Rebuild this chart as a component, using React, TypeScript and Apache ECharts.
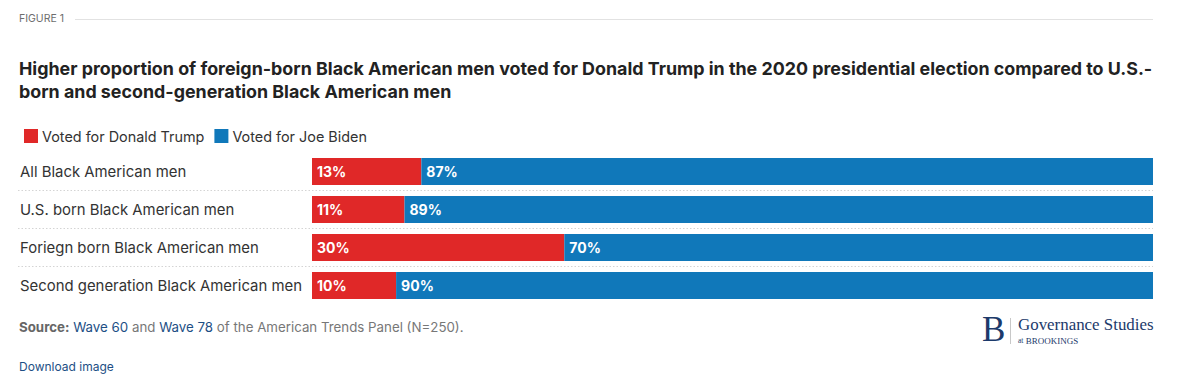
import React, { useEffect, useRef } from "react";
import * as echarts from "echarts";

const categories = [
  "All Black American men",
  "U.S. born Black American men",
  "Foriegn born Black American men",
  "Second generation Black American men",
];
const trump = [13, 11, 30, 10];
const biden = [87, 89, 70, 90];
const seriesNames = ["Voted for Donald Trump", "Voted for Joe Biden"];

const RED = "#E02828";
const BLUE = "#1078BA";
const FONT = "Inter, 'Noto Sans', sans-serif";
const SERIF = "'Liberation Serif', 'DejaVu Serif', serif";

export default function App() {
  const ref = useRef<HTMLDivElement>(null);
  useEffect(() => {
    document.body.style.margin = "0";
    const chart = echarts.init(ref.current!, null, { renderer: "svg" });
    const label = {
      show: true,
      position: "insideLeft",
      distance: 5,
      color: "#fff",
      fontWeight: "bold",
      fontSize: 14,
      fontFamily: FONT,
      formatter: (p: any) => p.value + "%",
    };
    chart.setOption({
      animation: false,
      textStyle: { fontFamily: FONT },
      grid: { left: 312, right: 28, top: 152.5, height: 152, containLabel: false },
      legend: {
        left: 19,
        top: 124,
        icon: "rect",
        itemWidth: 14,
        itemHeight: 14,
        itemGap: 10,
        textStyle: { fontSize: 14.4, color: "#333", fontFamily: FONT, padding: [0, 0, 0, -1] },
        data: seriesNames,
      },
      xAxis: { type: "value", min: 0, max: 100, show: false },
      yAxis: {
        type: "category",
        data: categories,
        inverse: true,
        axisLine: { show: false },
        axisTick: { show: false },
        splitLine: { show: false },
        axisLabel: {
          align: "left",
          margin: 292,
          fontSize: 14.9,
          color: "#333",
          fontFamily: FONT,
        },
      },
      series: [
        { name: seriesNames[0], type: "bar", stack: "v", data: trump, barWidth: 27, itemStyle: { color: RED }, label },
        { name: seriesNames[1], type: "bar", stack: "v", data: biden, barWidth: 27, itemStyle: { color: BLUE }, label },
      ],
      graphic: [
        { type: "text", left: 19, top: 13, style: { text: "FIGURE 1", fontSize: 10.5, fill: "#6d6d6d", fontFamily: FONT } },
        { type: "line", shape: { x1: 75, y1: 19.5, x2: 1153, y2: 19.5 }, style: { stroke: "#e2e2e2", lineWidth: 1 } },
        {
          type: "text",
          left: 19,
          top: 57,
          style: {
            text:
              "Higher proportion of foreign-born Black American men voted for Donald Trump in the 2020 presidential election compared to U.S.-\nborn and second-generation Black American men",
            fontSize: 17.85,
            fontWeight: "bold",
            lineHeight: 23,
            fill: "#222",
            fontFamily: FONT,
          },
        },
        ...[190.5, 228.5, 266.5].map((y) => ({
          type: "line",
          shape: { x1: 18, y1: y, x2: 1153, y2: y },
          style: { stroke: "#d4d4d4", lineWidth: 1, lineDash: [1.5, 2] },
        })),
        {
          type: "text",
          left: 19,
          top: 320,
          style: {
            text: "{b|Source:} {l|Wave 60} and {l|Wave 78} of the American Trends Panel (N=250).",
            fontSize: 13.3,
            fill: "#777",
            fontFamily: FONT,
            rich: {
              b: { fontWeight: "bold", fill: "#666", fontSize: 13.3, fontFamily: FONT },
              l: { fill: "#1d4f85", fontSize: 13.3, fontFamily: FONT },
            },
          },
        },
        { type: "text", left: 19, top: 360, style: { text: "Download image", fontSize: 12, fill: "#1d4f85", fontFamily: FONT } },
        { type: "text", left: 982, top: 312, style: { text: "B", fontSize: 35, fill: "#1c3a6b", fontFamily: SERIF } },
        { type: "line", shape: { x1: 1010.5, y1: 318, x2: 1010.5, y2: 344 }, style: { stroke: "#c8c8c8", lineWidth: 1 } },
        { type: "text", left: 1018, top: 316, style: { text: "Governance Studies", fontSize: 16.9, fill: "#1c3a6b", fontFamily: SERIF } },
        { type: "text", left: 1018, top: 336, style: { text: "{s|at} BROOKINGS", fontSize: 9, fill: "#1c3a6b", fontFamily: SERIF, rich: { s: { fontSize: 7.5, fill: "#1c3a6b", fontFamily: SERIF } } } },
      ],
    });
    return () => chart.dispose();
  }, []);
  return <div ref={ref} style={{ width: 1181, height: 381 }} />;
}
